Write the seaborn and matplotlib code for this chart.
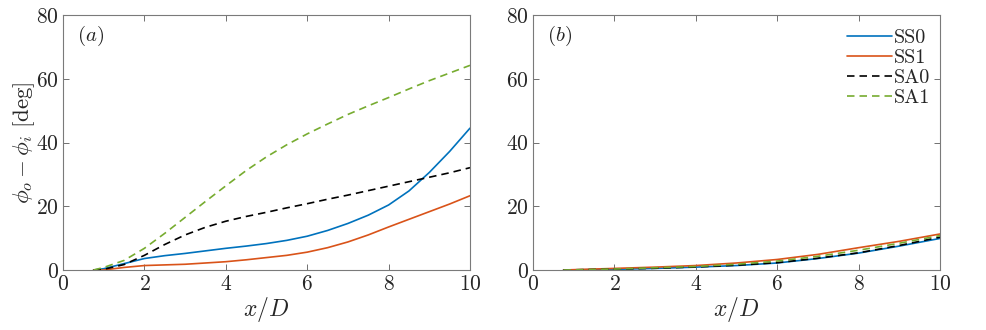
import numpy as np
import pandas as pd
import seaborn as sns
import matplotlib.pyplot as plt

# panel (a) data
xa = [0.75, 1.0, 1.5, 2.0, 2.5, 3.0, 3.5, 4.0, 4.5, 5.0, 5.5, 6.0, 6.5, 7.0, 7.5, 8.0, 8.5, 9.0, 9.5, 10.0]
ss0_a = [0, 0.4, 2.0, 3.6, 4.5, 5.2, 6.0, 6.8, 7.5, 8.3, 9.3, 10.6, 12.4, 14.6, 17.2, 20.4, 24.8, 30.6, 37.2, 44.5]
ss1_a = [0, 0, 0.8, 1.4, 1.6, 1.8, 2.2, 2.6, 3.2, 3.9, 4.6, 5.6, 7.0, 8.8, 11.0, 13.5, 15.9, 18.3, 20.7, 23.3]
sa0_a = [0, 0.2, 1.7, 4.6, 8.0, 11.0, 13.4, 15.3, 16.8, 18.1, 19.5, 20.8, 22.2, 23.5, 24.9, 26.3, 27.7, 29.1, 30.5, 32.1]
sa1_a = [0, 0.8, 3.0, 6.8, 11.5, 16.5, 21.5, 26.4, 31.2, 35.5, 39.3, 42.7, 45.8, 48.8, 51.5, 54.1, 56.8, 59.4, 61.8, 64.2]

# panel (b) data
xb = [0.75, 1.0, 2.0, 3.0, 4.0, 5.0, 6.0, 7.0, 8.0, 9.0, 10.0]
ss0_b = [0, 0.05, 0.2, 0.5, 0.9, 1.4, 2.2, 3.6, 5.3, 7.5, 9.9]
ss1_b = [0, 0.1, 0.5, 0.9, 1.4, 2.2, 3.3, 4.9, 7.0, 9.0, 11.3]
sa0_b = [0, 0.05, 0.25, 0.55, 0.95, 1.5, 2.3, 3.7, 5.4, 7.7, 10.3]
sa1_b = [0, 0.05, 0.3, 0.7, 1.1, 1.8, 2.8, 4.3, 6.2, 8.4, 10.8]

labels = ['SS0', 'SS1', 'SA0', 'SA1']
colors = ['#0072BD', '#D95319', 'black', '#77AC30']
styles = ['-', '-', '--', '--']

sns.set_style('ticks')
plt.rcParams['font.family'] = 'serif'
plt.rcParams['font.serif'] = ['cmr10']
plt.rcParams['mathtext.fontset'] = 'cm'
plt.rcParams['axes.formatter.use_mathtext'] = True
plt.rcParams['axes.unicode_minus'] = False

fig = plt.figure(figsize=(9.87, 3.3), dpi=100)
ax1 = fig.add_axes([63 / 987, 60 / 330, 407 / 987, 255 / 330])
ax2 = fig.add_axes([533 / 987, 60 / 330, 407 / 987, 255 / 330])

series_a = [ss0_a, ss1_a, sa0_a, sa1_a]
series_b = [ss0_b, ss1_b, sa0_b, sa1_b]

for ax, xs, series in [(ax1, xa, series_a), (ax2, xb, series_b)]:
    for ys, lab, c, ls in zip(series, labels, colors, styles):
        df = pd.DataFrame({'x': xs, 'y': ys})
        l = sns.lineplot(data=df, x='x', y='y', ax=ax, color=c, lw=1.2, label=lab)
        if ls == '--':
            l.get_lines()[-1].set_dashes((4.5, 3))
    ax.set_xlim(0, 10)
    ax.set_ylim(0, 80)
    ax.set_xticks([0, 2, 4, 6, 8, 10])
    ax.set_yticks([0, 20, 40, 60, 80])
    ax.tick_params(direction='in', top=True, right=True, length=4, width=0.6,
                   labelsize=15.5, colors='#5a5a5a', labelcolor='#262626', pad=3)
    for s in ax.spines.values():
        s.set_color('#7a7a7a')
        s.set_linewidth(0.8)
    ax.set_xlabel(r'$x/D$', fontsize=17, color='#262626', labelpad=1)
    ax.set_ylabel('')

ax1.set_ylabel(r'$\phi_o - \phi_i\ \mathrm{[deg]}$', fontsize=16.5, color='#262626', labelpad=-1)
ax1.get_legend().remove()
ax1.text(0.034, 0.918, r'$(a)$', transform=ax1.transAxes, fontsize=15, va='center', color='#262626')
ax2.text(0.034, 0.918, r'$(b)$', transform=ax2.transAxes, fontsize=15, va='center', color='#262626')

leg = ax2.legend(loc='upper right', frameon=False, fontsize=14.5, handlelength=2.2,
                 handletextpad=0.1, labelspacing=0.1, borderaxespad=0.0,
                 bbox_to_anchor=(0.995, 0.977))
for t in leg.get_texts():
    t.set_color('#262626')

plt.savefig('out.png', dpi=100)
